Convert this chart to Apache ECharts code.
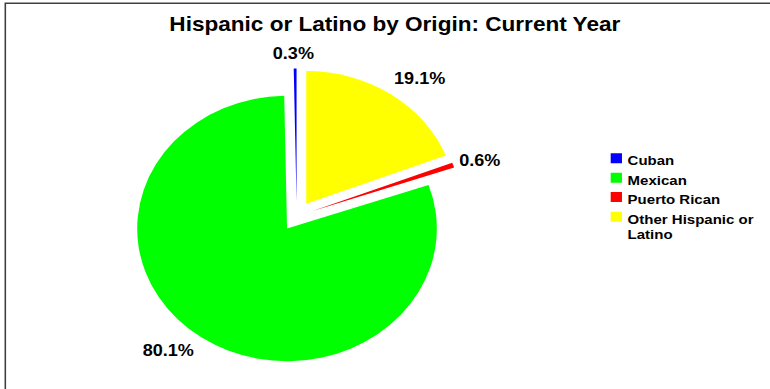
<!DOCTYPE html>
<html>
<head>
<meta charset="utf-8">
<script src="https://cdn.jsdelivr.net/npm/echarts@6/dist/echarts.min.js"></script>
<style>
  html, body { margin: 0; padding: 0; background: #fff; overflow: hidden; }
  #chart { width: 682px; height: 389px; transform: scaleX(1.12903); transform-origin: 0 0; }
</style>
</head>
<body>
<div id="chart"></div>
<script>
// ---- data ----
const titleText = 'Hispanic or Latino by Origin: Current Year';
const categories = ['Cuban', 'Mexican', 'Puerto Rican', 'Other Hispanic or Latino'];
const values = [0.3, 80.1, 0.6, 19.1];
const colors = ['#0000FF', '#00FF00', '#FF0000', '#FFFF00'];

// ---- layout tuning (label line lengths: [length, length2]) ----
const labelLines = [[14.7, -21.8], [16.5, -7.8], [12.0, -10.9], [19.0, -12.8]];
const FONT = '"Liberation Sans", Arial, sans-serif';

const chart = echarts.init(document.getElementById('chart'), null, { renderer: 'svg' });

const pieData = categories.map((name, i) => ({
  name: name,
  value: values[i],
  selected: true,
  itemStyle: { color: colors[i] },
  labelLine: { length: labelLines[i][0], length2: labelLines[i][1] }
}));

// square legend marker sitting at the top of a taller item box
const iconShort = 'path://M0,0h10v10h-10zM0,15h0.01v0.01h-0.01z';
const iconTall = 'path://M0,0h10v10h-10zM0,30h0.01v0.01h-0.01z';
const legendText = { fontFamily: FONT, fontSize: 13.3, fontWeight: 'bold', color: '#000' };

chart.setOption({
  animation: false,
  backgroundColor: '#fff',
  title: {
    text: titleText,
    left: 150, top: 14, padding: 0,
    textStyle: { fontFamily: FONT, fontSize: 20, fontWeight: 'bold', color: '#000' }
  },
  graphic: [{
    type: 'rect', silent: true, z: -1,
    shape: { x: 4.7, y: 3.3, width: 1200, height: 1200 },
    style: { fill: 'none', stroke: '#404040', lineWidth: 1.4 }
  }],
  legend: [{
    data: categories.slice(0, 3),
    orient: 'vertical', left: 540.9, top: 153.3, padding: 0,
    itemWidth: 10, itemHeight: 15, itemGap: 4.4, icon: iconShort,
    selectedMode: false,
    textStyle: Object.assign({}, legendText, { lineHeight: 14 })
  }, {
    data: categories.slice(3),
    orient: 'vertical', left: 540.9, top: 211.7, padding: 0,
    itemWidth: 10, itemHeight: 30, icon: iconTall,
    selectedMode: false,
    textStyle: Object.assign({}, legendText, { lineHeight: 15, width: 118, overflow: 'break' })
  }],
  series: [{
    type: 'pie',
    center: [262.8, 216.2],
    radius: 132.7,
    startAngle: 90,
    clockwise: false,
    selectedMode: 'multiple',
    selectedOffset: 15,
    avoidLabelOverlap: false,
    emphasis: { disabled: true },
    itemStyle: { borderWidth: 0 },
    label: {
      show: true, position: 'outside',
      fontFamily: FONT, fontSize: 16, fontWeight: 'bold', color: '#000',
      distanceToLabelLine: 5,
      formatter: p => p.value.toFixed(1) + '%'
    },
    labelLine: { show: false },
    data: pieData
  }]
});
</script>
</body>
</html>
